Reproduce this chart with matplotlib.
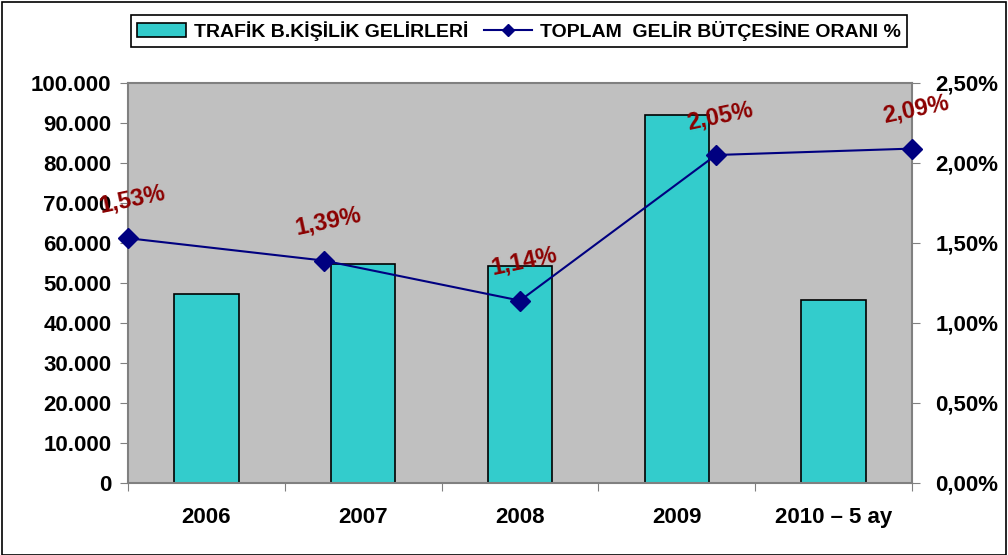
import matplotlib
matplotlib.use("Agg")
import matplotlib.pyplot as plt
from matplotlib.ticker import FuncFormatter, FixedLocator
from matplotlib.lines import Line2D
from matplotlib.patches import Patch, Rectangle
import numpy as np

# data
categories = ["2006", "2007", "2008", "2009", "2010 \u2013 5 ay"]
gelir = [47300, 54800, 54300, 92100, 45800]
oran = [1.53, 1.39, 1.14, 2.05, 2.09]
oran_labels = ["1,53%", "1,39%", "1,14%", "2,05%", "2,09%"]

BAR_COLOR = "#33CCCC"
LINE_COLOR = "#000080"
LABEL_COLOR = "#8B0000"
AXIS_GRAY = "#808080"

plt.rcParams["font.family"] = ["Liberation Sans", "DejaVu Sans"]
plt.rcParams["font.weight"] = "bold"

fig = plt.figure(figsize=(10.08, 5.55), dpi=100)
fig.patches.append(Rectangle((0.002, 0.0), 0.996, 0.997, transform=fig.transFigure,
                             fill=False, edgecolor="black", linewidth=1.2))

ax = fig.add_axes([128 / 1008, 1 - 483 / 555, (912 - 128) / 1008, (483 - 83) / 555])
ax.set_facecolor("#C0C0C0")

x = np.arange(len(categories))
ax.bar(x, gelir, width=0.41, color=BAR_COLOR, edgecolor="black", linewidth=1.2, zorder=2)
ax.set_xlim(-0.5, len(categories) - 0.5)
ax.set_ylim(0, 100000)
ax.set_yticks(np.arange(0, 100001, 10000))
ax.yaxis.set_major_formatter(FuncFormatter(lambda v, p: f"{int(v):,}".replace(",", ".")))

# ticks at category boundaries, labels at centres
ax.xaxis.set_major_locator(FixedLocator(np.arange(-0.5, len(categories), 1.0)))
ax.xaxis.set_major_formatter(FuncFormatter(lambda v, p: ""))
ax.xaxis.set_minor_locator(FixedLocator(x))
ax.set_xticklabels(categories, minor=True)
ax.tick_params(axis="x", which="major", length=6, color=AXIS_GRAY, direction="out")
ax.tick_params(axis="x", which="minor", length=0, pad=17, labelsize=16)
ax.tick_params(axis="y", length=6, color=AXIS_GRAY, pad=6, labelsize=16)
for s in ax.spines.values():
    s.set_color(AXIS_GRAY)
    s.set_linewidth(1.5)

ax2 = ax.twinx()
ax2.set_ylim(0, 2.5)
ax2.set_yticks(np.arange(0, 2.51, 0.5))
ax2.yaxis.set_major_formatter(FuncFormatter(lambda v, p: f"{v:.2f}".replace(".", ",") + "%"))
ax2.tick_params(axis="y", length=6, color=AXIS_GRAY, pad=11, labelsize=16)
for s in ax2.spines.values():
    s.set_visible(False)

ax3 = ax2.twiny()
ax3.set_xlim(0, len(categories) - 1)
ax3.set_xticks([])
for s in ax3.spines.values():
    s.set_visible(False)
ax3.plot(x, oran, color=LINE_COLOR, linewidth=1.5, marker="D", markersize=10,
         markerfacecolor=LINE_COLOR, markeredgecolor=LINE_COLOR, clip_on=False, zorder=3)
for xi, yi, lab in zip(x, oran, oran_labels):
    ax3.annotate(lab, (xi, yi), xytext=(3, 28), textcoords="offset points",
                 ha="center", va="center", rotation=12, color=LABEL_COLOR,
                 fontsize=17, fontweight="bold", annotation_clip=False)

handles = [Patch(facecolor=BAR_COLOR, edgecolor="black", linewidth=1.2),
           Line2D([], [], color=LINE_COLOR, linewidth=1.5, marker="D", markersize=6)]
leg = fig.legend(handles, ["TRAFİK B.KİŞİLİK GELİRLERİ", "TOPLAM  GELİR BÜTÇESİNE ORANI %"],
                 loc="upper center", bbox_to_anchor=(519 / 1008, 0.99), ncol=2,
                 frameon=True, fancybox=False, edgecolor="black", framealpha=1,
                 fontsize=14, handlelength=2.5, handletextpad=0.4, columnspacing=0.8,
                 borderpad=0.3)
leg.get_frame().set_linewidth(1.2)

fig.savefig("out.png", dpi=100)
